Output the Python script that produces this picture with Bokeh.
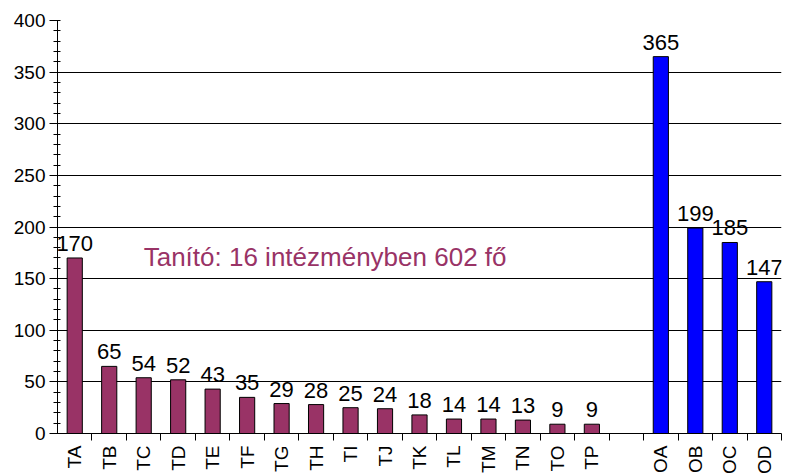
import math
from bokeh.plotting import figure
from bokeh.models import FixedTicker, SingleIntervalTicker, Label, Range1d, ColumnDataSource
from bokeh.core.properties import value
from bokeh.embed import file_html
from bokeh.resources import INLINE

# ---- data ----
t_cats = ["TA", "TB", "TC", "TD", "TE", "TF", "TG", "TH", "TI", "TJ",
          "TK", "TL", "TM", "TN", "TO", "TP"]
t_vals = [170, 65, 54, 52, 43, 35, 29, 28, 25, 24, 18, 14, 14, 13, 9, 9]
o_cats = ["OA", "OB", "OC", "OD"]
o_vals = [365, 199, 185, 147]
y_ticks = [0, 50, 100, 150, 200, 250, 300, 350, 400]
note_text = "Tanító: 16 intézményben 602 fő"

T_COLOR = "#993366"
O_COLOR = "#0000FF"
FONT = "Liberation Sans"

# slot layout: 16 T slots, one empty slot, 4 O slots
t_x = [i + 0.5 for i in range(len(t_cats))]
o_x = [len(t_cats) + 1 + i + 0.5 for i in range(len(o_cats))]
n_slots = len(t_cats) + 1 + len(o_cats)

p = figure(frame_width=724, frame_height=413,
           x_range=Range1d(0, n_slots), y_range=Range1d(y_ticks[0], y_ticks[-1]),
           output_backend="svg", toolbar_location=None,
           min_border_left=57, min_border_right=4, min_border_top=20,
           min_border_bottom=0)
p.outline_line_color = None
p.background_fill_color = "white"
p.border_fill_color = "white"

t_src = ColumnDataSource(dict(x=t_x, top=t_vals, lab=[str(v) for v in t_vals]))
o_src = ColumnDataSource(dict(x=o_x, top=o_vals, lab=[str(v) for v in o_vals]))

p.vbar(x="x", top="top", width=0.44, source=t_src, fill_color=T_COLOR,
       line_color="black", line_width=1)
p.vbar(x="x", top="top", width=0.44, source=o_src, fill_color=O_COLOR,
       line_color="black", line_width=1)

for src in (t_src, o_src):
    p.text(x="x", y="top", text="lab", source=src, text_align="center",
           text_baseline="bottom", y_offset=-7, text_color="black",
           text_font=value(FONT), text_font_size="22px")

p.add_layout(Label(x=2.5, y=170.5, text=note_text, text_color=T_COLOR,
                   text_font=FONT, text_font_size="26px",
                   text_baseline="middle", text_align="left"))

# y axis
p.yaxis.ticker = SingleIntervalTicker(interval=50, num_minor_ticks=5)
p.yaxis.axis_line_color = "black"
p.yaxis.major_tick_in = 0
p.yaxis.major_tick_out = 8
p.yaxis.minor_tick_in = 3
p.yaxis.minor_tick_out = 4
p.yaxis.major_tick_line_color = "black"
p.yaxis.minor_tick_line_color = "black"
p.yaxis.major_label_standoff = 4
p.yaxis.major_label_text_font = FONT
p.yaxis.major_label_text_font_size = "19px"
p.yaxis.major_label_text_color = "black"

# x axis
centers = t_x + o_x
names = t_cats + o_cats
p.xaxis.ticker = FixedTicker(ticks=centers, minor_ticks=list(range(1, n_slots + 1)))
p.xaxis.major_label_overrides = {c: n for c, n in zip(centers, names)}
p.xaxis.major_tick_in = 0
p.xaxis.major_tick_out = 0
p.xaxis.minor_tick_in = 0
p.xaxis.minor_tick_out = 7
p.xaxis.minor_tick_line_color = "black"
p.xaxis.axis_line_color = "black"
p.xaxis.major_label_orientation = math.pi / 2
p.xaxis.major_label_standoff = 5
p.xaxis.major_label_text_font = FONT
p.xaxis.major_label_text_font_size = "19px"
p.xaxis.major_label_text_color = "black"

p.xgrid.grid_line_color = None
p.ygrid.grid_line_color = "black"
p.ygrid.grid_line_alpha = 1.0
p.ygrid.grid_line_width = 1

open("out.html", "w").write(file_html(p, INLINE))
